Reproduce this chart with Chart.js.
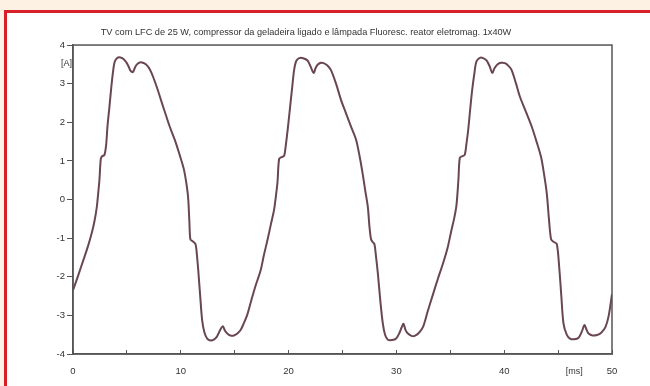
<!DOCTYPE html>
<html>
<head>
<meta charset="utf-8">
<script src="https://cdn.jsdelivr.net/npm/chart.js@4.4.0/dist/chart.umd.min.js"></script>
<style>
    html, body { margin: 0; padding: 0; background: #fcf1e3; }
    #frame {
        position: absolute; left: 4px; top: 10px; width: 700px; height: 450px;
        border: 3px solid #d8202a; background: #ffffff;
    }
    #wrap { position: absolute; left: 0; top: 0; width: 650px; height: 386px; }
</style>
</head>
<body>
<div id="frame"></div>
<div id="wrap"><canvas id="chart" width="650" height="386"></canvas></div>
<script>
// time in ms, current in A
const timeMs = [
    0, 0.5, 0.96, 1.4, 1.74, 2.0, 2.21, 2.35, 2.45, 2.58, 2.7, 2.91, 3.07, 3.2, 3.38, 3.55, 3.7, 3.85,
    4.07, 4.4, 4.68, 4.95, 5.15, 5.35, 5.56, 5.75, 5.93, 6.2, 6.49, 6.75, 7.01, 7.25, 7.48, 7.85,
    8.26, 8.6, 8.97, 9.5, 9.9, 10.27, 10.5, 10.68, 10.8, 10.89, 11.1, 11.36, 11.5, 11.61, 11.8, 11.98,
    12.2, 12.45, 12.75, 13.06, 13.35, 13.53, 13.7, 13.9, 14.1, 14.31, 14.6, 14.93, 15.25, 15.55, 15.85,
    16.17, 16.55, 16.95, 17.41, 17.7, 18.04, 18.35, 18.65, 18.85, 18.97, 19.12, 19.35, 19.58, 19.74,
    19.95, 20.14, 20.35, 20.51, 20.7, 20.98, 21.35, 21.76, 22.0, 22.32, 22.5, 22.69, 23.0, 23.25, 23.6,
    23.93, 24.4, 24.86, 25.3, 25.79, 26.26, 26.6, 26.88, 27.1, 27.35, 27.5, 27.65, 27.8, 27.96, 28.1,
    28.28, 28.5, 28.74, 28.95, 29.21, 29.6, 29.98, 30.29, 30.5, 30.66, 30.85, 31.07, 31.4, 31.69, 32.1,
    32.47, 32.9, 33.4, 33.85, 34.33, 34.75, 35.1, 35.35, 35.57, 35.75, 35.88, 36.1, 36.34, 36.5, 36.66,
    36.85, 37.03, 37.25, 37.43, 37.74, 38.05, 38.36, 38.65, 38.89, 39.1, 39.39, 39.7, 40.07, 40.4,
    40.69, 41.1, 41.46, 42.0, 42.55, 43.0, 43.42, 43.7, 43.95, 44.15, 44.35, 44.6, 44.88, 45.1, 45.3,
    45.5, 45.8, 46.1, 46.5, 46.9, 47.2, 47.45, 47.65, 47.83, 48.2, 48.6, 49.0, 49.4, 49.7, 50.0
];
const currentA = [
    -2.35, -1.95, -1.57, -1.2, -0.87, -0.55, -0.19, 0.2, 0.5, 1.05, 1.12, 1.15, 1.4, 1.9, 2.4, 2.9, 3.28, 3.55,
    3.66, 3.68, 3.64, 3.55, 3.45, 3.33, 3.3, 3.42, 3.5, 3.55, 3.54, 3.5, 3.42, 3.3, 3.14, 2.85,
    2.49, 2.2, 1.89, 1.5, 1.15, 0.8, 0.45, 0.05, -0.6, -1.03, -1.08, -1.15, -1.45, -1.8, -2.5, -3.12,
    -3.45, -3.6, -3.65, -3.63, -3.55, -3.45, -3.35, -3.28, -3.4, -3.47, -3.52, -3.52, -3.47, -3.38, -3.2,
    -2.98, -2.6, -2.22, -1.83, -1.45, -1.05, -0.65, -0.27, 0.15, 0.45, 1.05, 1.1, 1.13, 1.4,
    1.9, 2.4, 2.95, 3.35, 3.58, 3.66, 3.66, 3.6, 3.47, 3.28, 3.4, 3.49, 3.54, 3.53, 3.47,
    3.35, 3.0, 2.58, 2.25, 1.89, 1.55, 1.1, 0.65, 0.25, -0.19, -0.7, -1.03, -1.1, -1.15, -1.45,
    -1.91, -2.6, -3.21, -3.5, -3.63, -3.64, -3.6, -3.45, -3.3, -3.22, -3.38, -3.47, -3.53, -3.53, -3.45,
    -3.3, -2.9, -2.45, -2.05, -1.65, -1.25, -0.8, -0.5, -0.15, 0.5, 1.08, 1.12, 1.16, 1.45, 1.8,
    2.35, 2.84, 3.3, 3.58, 3.67, 3.66, 3.6, 3.45, 3.28, 3.4, 3.5, 3.54, 3.53, 3.46,
    3.35, 3.0, 2.66, 2.28, 1.89, 1.5, 1.1, 0.65, 0.16, -0.5, -1.03, -1.1, -1.15, -1.74, -2.5,
    -3.21, -3.5, -3.6, -3.62, -3.58, -3.42, -3.25, -3.38, -3.47, -3.52, -3.51, -3.45, -3.3, -3.0, -2.45
];
const yTicks = [4, 3, 2, 1, 0, -1, -2, -3, -4];
const xLabels = [0, 10, 20, 30, 40, 50];
const titleText = 'TV com LFC de 25 W, compressor da geladeira ligado e lâmpada Fluoresc. reator eletromag. 1x40W';

const axisColor = '#555555';
const textColor = '#333333';
const tickFont = { family: 'Liberation Sans, Arial, sans-serif', size: 9.5 };

// frame around the plot and the unit labels
const framePlugin = {
    id: 'frame',
    afterDraw(chart) {
        const ctx = chart.ctx;
        const a = chart.chartArea;
        ctx.save();
        ctx.strokeStyle = axisColor;
        ctx.lineWidth = 1.5;
        ctx.strokeRect(a.left, a.top, a.right - a.left, a.bottom - a.top);
        ctx.fillStyle = textColor;
        ctx.font = '9px Liberation Sans, Arial, sans-serif';
        ctx.textAlign = 'right';
        ctx.textBaseline = 'middle';
        ctx.fillText('[A]', a.left - 1, a.top + 18);
        ctx.textAlign = 'center';
        ctx.fillText('[ms]', chart.scales.x.getPixelForValue(46.5), 372);
        ctx.restore();
    }
};

const points = timeMs.map((t, i) => ({ x: t, y: currentA[i] }));

new Chart(document.getElementById('chart'), {
    type: 'line',
    data: {
        datasets: [{
            data: points,
            borderColor: '#6a4650',
            borderWidth: 2,
            pointRadius: 0,
            tension: 0.3,
            fill: false
        }]
    },
    options: {
        responsive: false,
        animation: false,
        layout: { padding: { top: 0, right: 38, left: 0, bottom: 0 } },
        plugins: {
            legend: { display: false },
            tooltip: { enabled: false },
            title: {
                display: true,
                text: titleText,
                color: textColor,
                font: { family: 'Liberation Sans, Arial, sans-serif', size: 9.2, weight: 'normal' },
                padding: { top: 27, bottom: 7 }
            }
        },
        scales: {
            x: {
                type: 'linear',
                min: 0,
                max: 50,
                afterFit: s => { s.height = 32; },
                afterBuildTicks: s => {
                    const t = [];
                    for (let v = 0; v <= 50; v += 5) t.push({ value: v });
                    s.ticks = t;
                },
                border: { display: true, color: axisColor, width: 1.5 },
                grid: { drawOnChartArea: false, color: axisColor, tickLength: -4 },
                ticks: {
                    color: textColor,
                    font: tickFont,
                    padding: 16,
                    maxRotation: 0,
                    autoSkip: false,
                    callback: v => xLabels.includes(v) ? String(v) : ''
                }
            },
            y: {
                min: -4,
                max: 4,
                afterFit: s => { s.width = 73; },
                afterBuildTicks: s => { s.ticks = yTicks.map(v => ({ value: v })); },
                border: { display: true, color: axisColor, width: 1.5 },
                grid: { drawOnChartArea: false, color: axisColor, tickLength: 6 },
                ticks: { color: textColor, font: tickFont, padding: 2 }
            }
        }
    },
    plugins: [framePlugin]
});
</script>
</body>
</html>
